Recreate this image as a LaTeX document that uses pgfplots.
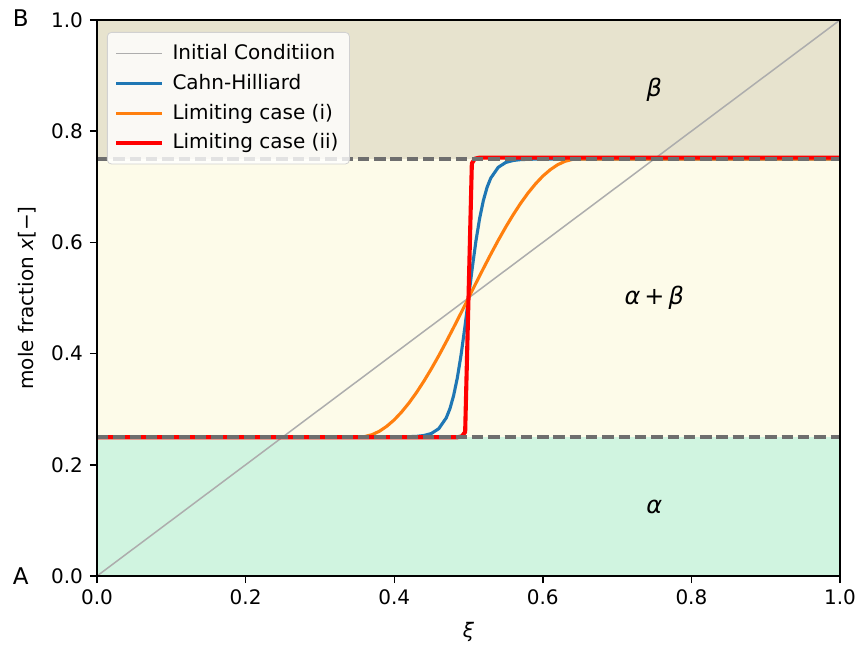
\documentclass[border=0pt]{standalone}
\usepackage{fontspec}
\setmainfont{DejaVu Sans}
\usepackage{pgfplots}
\pgfplotsset{compat=1.18}
\definecolor{mintreg}{RGB}{208,244,224}
\definecolor{yelreg}{RGB}{253,251,233}
\definecolor{beigereg}{RGB}{231,227,206}
\definecolor{mplblue}{HTML}{1F77B4}
\definecolor{mplorange}{HTML}{FF7F0E}
\definecolor{mplred}{HTML}{FF0000}
\definecolor{dashgray}{HTML}{6E6E6E}
\definecolor{initgray}{HTML}{ADADAD}
\begin{document}
\begin{tikzpicture}
\useasboundingbox (-48.5pt,-35.5pt) rectangle (381.5pt,288pt);
\begin{axis}[
  scale only axis, width=371.5pt, height=278pt,
  xmin=0, xmax=1, ymin=0, ymax=1,
  clip=false, axis on top,
  xtick={0,0.2,0.4,0.6,0.8,1.0},
  ytick={0,0.2,0.4,0.6,0.8,1.0},
  tick pos=left, tick align=outside,
  major tick length=3.5pt,
  every tick/.style={black, line width=0.7pt},
  axis line style={black, line width=0.7pt},
  xticklabel style={font=\fontsize{10}{12}\selectfont, /pgf/number format/fixed, /pgf/number format/fixed zerofill, /pgf/number format/precision=1, /pgf/number format/assume math mode=true},
  yticklabel style={font=\fontsize{10}{12}\selectfont, /pgf/number format/fixed, /pgf/number format/fixed zerofill, /pgf/number format/precision=1, /pgf/number format/assume math mode=true},
  xlabel={\itshape ξ},
  ylabel={mole fraction {\itshape x}[−]},
  label style={font=\fontsize{10.3}{12}\selectfont},
  every axis x label/.style={at={(axis description cs:0.5,-0.101)}, anchor=center},
  every axis y label/.style={at={(axis description cs:-0.094,0.5)}, anchor=center, rotate=90},
  legend cell align=left,
  legend style={at={(rel axis cs:0,1)}, anchor=north west, xshift=5pt, yshift=-6pt,
    draw=black!18, rounded corners=2pt, fill=white, fill opacity=0.8, text opacity=1,
    font=\fontsize{10}{12}\selectfont, row sep=1.8pt, inner xsep=3.5pt, inner ysep=4pt},
  legend image code/.code={\draw[#1] (0pt,0pt) -- (23pt,0pt); \path (25pt,0pt);},
]
% phase regions
\addplot[draw=none, fill=mintreg, forget plot] coordinates {(0,0) (1,0) (1,0.25) (0,0.25)} -- cycle;
\addplot[draw=none, fill=yelreg, forget plot] coordinates {(0,0.25) (1,0.25) (1,0.75) (0,0.75)} -- cycle;
\addplot[draw=none, fill=beigereg, forget plot] coordinates {(0,0.75) (1,0.75) (1,1) (0,1)} -- cycle;

% initial condition
\addplot[initgray, line width=0.75pt] coordinates {(0,0) (1,1)};
\addlegendentry{Initial Conditiion}

% Cahn-Hilliard
\addplot[mplblue, line width=1.55pt, line join=round] coordinates {
(0,0.25) (0.38,0.25) (0.41,0.2502) (0.43,0.2511) (0.44,0.2527) (0.45,0.2563)
(0.46,0.2650) (0.47,0.2843) (0.475,0.3009) (0.48,0.3247) (0.485,0.3567)
(0.49,0.3976) (0.495,0.4465) (0.5,0.5) (0.505,0.5535) (0.51,0.6024)
(0.515,0.6433) (0.52,0.6753) (0.525,0.6991) (0.53,0.7157) (0.54,0.7350)
(0.55,0.7437) (0.56,0.7473) (0.57,0.7489) (0.59,0.7498) (0.62,0.75) (1,0.75)};
\addlegendentry{Cahn-Hilliard}

% Limiting case (i)
\addplot[mplorange, line width=1.55pt, line join=round] coordinates {
(0,0.25) (0.353,0.25) (0.36,0.2507) (0.37,0.2541) (0.38,0.2603) (0.39,0.2693)
(0.40,0.2808) (0.41,0.2950) (0.42,0.3114) (0.43,0.3300) (0.44,0.3505)
(0.45,0.3727) (0.46,0.3963) (0.47,0.4212) (0.48,0.4470) (0.49,0.4733)
(0.5,0.5) (0.51,0.5267) (0.52,0.5530) (0.53,0.5788) (0.54,0.6037)
(0.55,0.6273) (0.56,0.6495) (0.57,0.6700) (0.58,0.6886) (0.59,0.7050)
(0.60,0.7192) (0.61,0.7307) (0.62,0.7397) (0.63,0.7459) (0.64,0.7493)
(0.647,0.75) (1,0.75)};
\addlegendentry{Limiting case (i)}

% Limiting case (ii)
\addplot[mplred, line width=2.05pt, line join=round] coordinates {
(0,0.2495) (0.485,0.2495) (0.491,0.251) (0.4955,0.259) (0.5045,0.742)
(0.5085,0.7505) (0.515,0.7525) (1,0.7525)};
\addlegendentry{Limiting case (ii)}

% phase boundaries
\addplot[dashgray, line width=1.55pt, dash pattern=on 5.7pt off 2.45pt, forget plot] coordinates {(0,0.25) (1,0.25)};
\addplot[dashgray, line width=1.55pt, dash pattern=on 5.7pt off 2.45pt, forget plot] coordinates {(0,0.75) (1,0.75)};

% phase labels
\node[font=\fontsize{12}{14}\selectfont] at (axis cs:0.75,0.875) {\itshape β};
\node[font=\fontsize{12}{14}\selectfont] at (axis cs:0.75,0.5) {{\itshape α}\,+\,{\itshape β}};
\node[font=\fontsize{12}{14}\selectfont] at (axis cs:0.75,0.125) {\itshape α};

% corner labels
\node[font=\fontsize{11.5}{13}\selectfont] at (axis description cs:-0.1025,0.0) {A};
\node[font=\fontsize{11.5}{13}\selectfont] at (axis description cs:-0.1025,1.004) {B};
\end{axis}
\end{tikzpicture}
\end{document}
